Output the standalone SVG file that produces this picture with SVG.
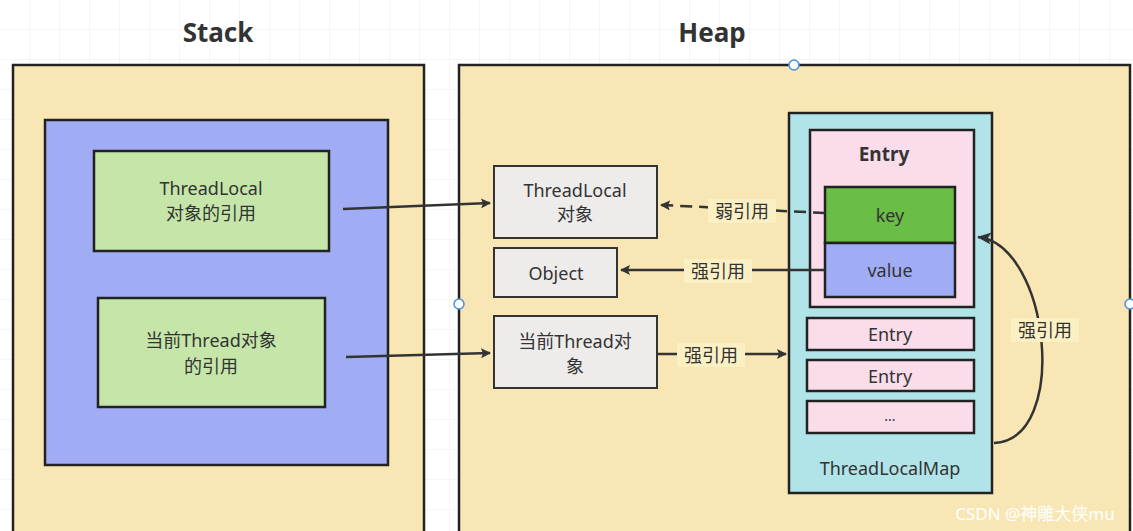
<svg xmlns="http://www.w3.org/2000/svg" width="1133" height="531" viewBox="0 0 1133 531">
<style>
text{font-family:"Noto Sans","Noto Sans CJK SC",sans-serif;fill:#333;text-anchor:middle;dominant-baseline:central}
.b{stroke:#222;stroke-width:2.5}
.ln{stroke:#333;stroke-width:2.5;fill:none}
.lab{fill:#fbf0c4}
</style>
<defs>
<pattern id="g" width="30" height="30" patternUnits="userSpaceOnUse"><path d="M30 0V30H0" fill="none" stroke="#ececec" stroke-width="1"/></pattern>
<marker id="a" markerWidth="10" markerHeight="10" refX="9" refY="5" orient="auto" markerUnits="userSpaceOnUse"><path d="M0 0L10 5L0 10L2 5Z" fill="#333"/></marker>
<marker id="a2" markerWidth="14" markerHeight="12" refX="13" refY="6" orient="auto" markerUnits="userSpaceOnUse"><path d="M0 0L14 6L0 12L3 6Z" fill="#333"/></marker>
</defs>
<rect width="1133" height="531" fill="#fff"/>
<rect width="1133" height="531" fill="url(#g)"/>
<text x="218" y="32" font-size="26" font-weight="bold">Stack</text>
<text x="712" y="32" font-size="26" font-weight="bold">Heap</text>
<g id="stack"><rect x="13" y="65" width="411" height="480" fill="#f8e7b4" class="b"/></g>
<g id="heap"><rect x="459" y="65" width="671" height="480" fill="#f8e7b4" class="b"/></g>
<g id="stackframe"><rect x="45" y="120" width="343" height="345" fill="#a0acf4" class="b"/></g>
<g id="tlref"><rect x="94" y="151" width="235" height="100" fill="#c5e6a8" class="b"/><text x="211" y="188" font-size="18">ThreadLocal</text><text x="211" y="213" font-size="18">对象的引用</text></g>
<g id="thref"><rect x="98" y="298" width="227" height="109" fill="#c5e6a8" class="b"/><text x="211" y="340" font-size="18">当前Thread对象</text><text x="211" y="366" font-size="18">的引用</text></g>
<g id="tlobj"><rect x="494" y="166" width="163" height="72" fill="#eeeceb" stroke="#333" stroke-width="2"/><text x="575" y="190" font-size="18">ThreadLocal</text><text x="575" y="214" font-size="18">对象</text></g>
<g id="object"><rect x="494" y="248" width="123" height="49" fill="#eeeceb" stroke="#333" stroke-width="2"/><text x="556" y="273" font-size="18">Object</text></g>
<g id="thobj"><rect x="494" y="316" width="163" height="72" fill="#eeeceb" stroke="#333" stroke-width="2"/><text x="575" y="341" font-size="18">当前Thread对</text><text x="575" y="366" font-size="18">象</text></g>
<g id="map"><rect x="789" y="113" width="203" height="380" fill="#b1e4e8" class="b"/><text x="890" y="468" font-size="18">ThreadLocalMap</text></g>
<g id="entry"><rect x="810" y="130" width="164" height="177" fill="#fadcea" class="b"/><text x="884" y="154" font-size="19" font-weight="bold">Entry</text></g>
<g id="key"><rect x="825" y="187" width="130" height="56" fill="#6abd45" class="b"/><text x="890" y="215" font-size="18">key</text></g>
<g id="value"><rect x="825" y="243" width="130" height="54" fill="#a0acf4" class="b"/><text x="890" y="270" font-size="18">value</text></g>
<g id="e2"><rect x="807" y="318" width="167" height="32" fill="#fadcea" class="b"/><text x="890" y="334" font-size="18">Entry</text></g>
<g id="e3"><rect x="807" y="360" width="167" height="31" fill="#fadcea" class="b"/><text x="890" y="376" font-size="18">Entry</text></g>
<g id="e4"><rect x="807" y="401" width="167" height="32" fill="#fadcea" class="b"/><text x="890" y="415" font-size="14">...</text></g>
<g id="connectors">
<path d="M343 209L490 203" class="ln" marker-end="url(#a)"/>
<path d="M346 357L490 353" class="ln" marker-end="url(#a)"/>
<path d="M825 213L661 205" class="ln" stroke-dasharray="12 7" marker-end="url(#a)"/>
<rect x="708" y="199" width="68" height="24" class="lab"/><text x="742" y="211" font-size="18">弱引用</text>
<path d="M825 270L621 270" class="ln" marker-end="url(#a)"/>
<rect x="684" y="259" width="68" height="24" class="lab"/><text x="718" y="271" font-size="18">强引用</text>
<path d="M657 354L786 354" class="ln" marker-end="url(#a)"/>
<rect x="677" y="343" width="68" height="24" class="lab"/><text x="711" y="355" font-size="18">强引用</text>
<path d="M994 443C1070 440 1050 245 978 237" class="ln" marker-end="url(#a2)"/>
<rect x="1011" y="318" width="68" height="24" class="lab"/><text x="1045" y="330" font-size="18">强引用</text>
</g>
<g id="handles" fill="#fff" stroke="#4a90d9" stroke-width="1.5"><circle cx="794" cy="65" r="5"/><circle cx="459" cy="304" r="5"/><circle cx="1130" cy="304" r="5"/></g>
<text x="1035" y="513" font-size="17" fill="#fff" style="fill:#fff">CSDN @神雕大侠mu</text>
</svg>
